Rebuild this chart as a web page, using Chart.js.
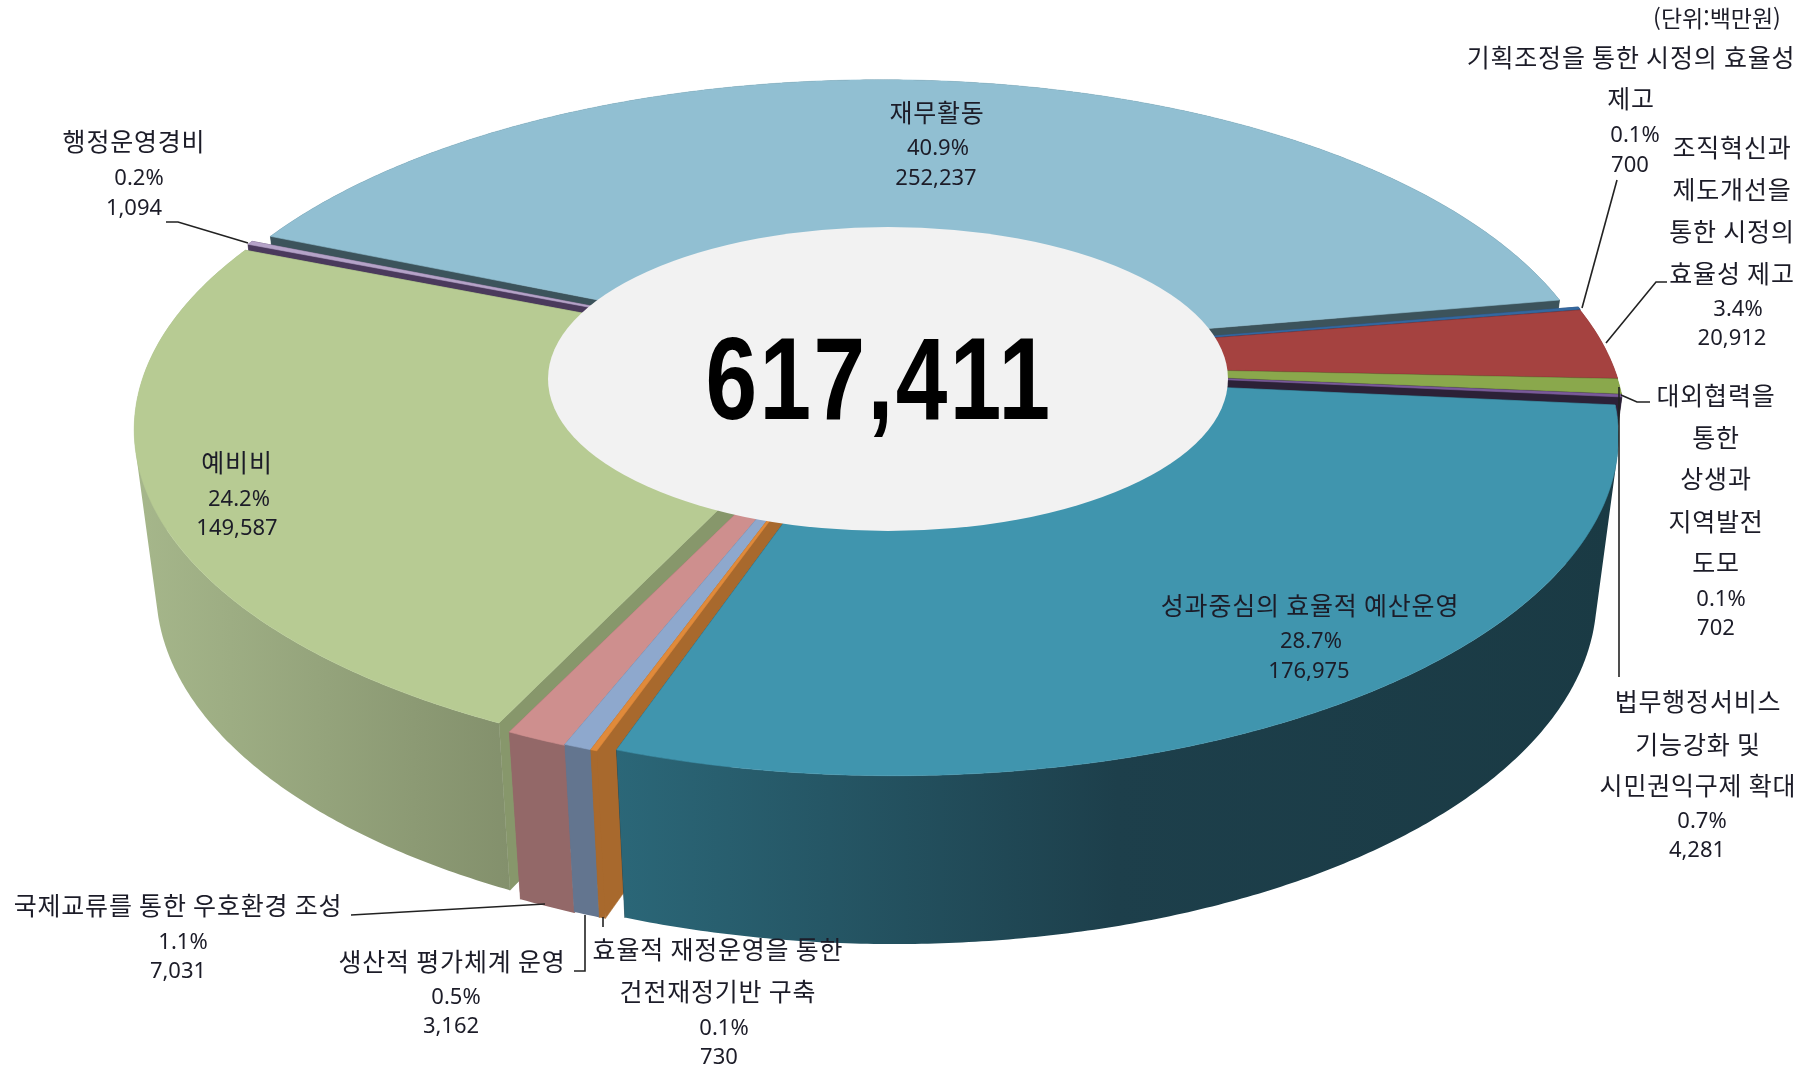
<!DOCTYPE html>
<html lang="ko">
<head>
<meta charset="utf-8">
<title>617,411</title>
<script src="https://cdn.jsdelivr.net/npm/chart.js@4/dist/chart.umd.min.js"></script>
<style>
  html, body { margin: 0; padding: 0; background: #fff; }
  canvas { display: block; }
</style>
</head>
<body>
<canvas id="myChart" width="1811" height="1070"></canvas>
<script>
// slices in clockwise order, starting at the first one after the 재무활동 slice
const categories = [
    ['기획조정을 통한 시정의 효율성', '제고'],
    ['조직혁신과', '제도개선을', '통한 시정의', '효율성 제고'],
    ['법무행정서비스', '기능강화 및', '시민권익구제 확대'],
    ['대외협력을', '통한', '상생과', '지역발전', '도모'],
    ['성과중심의 효율적 예산운영'],
    ['효율적 재정운영을 통한', '건전재정기반 구축'],
    ['생산적 평가체계 운영'],
    ['국제교류를 통한 우호환경 조성'],
    ['예비비'],
    ['행정운영경비'],
    ['재무활동']
]
const values = [700, 20912, 4281, 702, 176975, 730, 3162, 7031, 149587, 1094, 252237]
const unitLabel = '(단위:백만원)'

const topColors = ['#35689f', '#a54240', '#8aa84c', '#7a5a9a', '#4095ae', '#e08a3a', '#8ea8cd', '#ce8f8e', '#b7cb93', '#b5a3c8', '#91bfd2']
const edgeColors = ['#24456b', '#6e2c2b', '#5c7033', '#2c2137', '#1d4250', '#a8692d', '#63758f', '#936868', '#87976b', '#4a3a5c', '#3c535b']
const wallStops = [
    ['#24456b'], ['#6e2c2b'], ['#5c7033'], ['#2c2137'],
    ['#2b6778', '#1d3f4b', '#1a3a44'],
    ['#a8692d'], ['#63758f'], ['#936868'],
    ['#a6b78b', '#83906c'],
    ['#4a3a5c'], ['#3c535b']
]
// slice offset from the pie centre in px, third number narrows the slice
const shifts = [[6, -4, 1], [6, -3, 1], [6, -2, 1], [6, -1, 1], [14, 7, 0.98], [0, 8, 1], [0, 8, 1], [0, 9, 1], [-14, 0, 0.99], [-5, -6, 1], [1, -11, 0.98]]
const drawOrder = [10, 0, 1, 2, 3, 9, 8, 7, 6, 5, 4]

// label anchors: centre x of the block, centre y of every line, x of the percent and value rows
const labelSpots = [
    { x: 1631, ys: [57, 98, 134, 164], vx: [1635, 1630] },
    { x: 1732, ys: [147, 189, 231, 273, 308, 337], vx: [1738, 1732] },
    { x: 1698, ys: [701, 744, 785, 820, 849], vx: [1702, 1697] },
    { x: 1716, ys: [395, 437, 478, 521, 562, 598, 627], vx: [1721, 1716] },
    { x: 1310, ys: [605, 640, 670], vx: [1311, 1309] },
    { x: 718, ys: [949, 991, 1027, 1056], vx: [724, 719] },
    { x: 452, ys: [961, 996, 1025], vx: [456, 451] },
    { x: 178, ys: [905, 941, 970], vx: [183, 178] },
    { x: 237, ys: [462, 498, 527], vx: [239, 237] },
    { x: 134, ys: [141, 177, 207], vx: [139, 134] },
    { x: 937, ys: [112, 147, 177], vx: [938, 936] }
]
const leaders = [
    [[1617, 180], [1582, 308]],
    [[1667, 282], [1656, 282], [1606, 343]],
    [[1619, 387], [1619, 677]],
    [[1650, 402], [1637, 402], [1621, 395]],
    [],
    [[603, 917], [603, 927]],
    [[574, 971], [585, 971], [585, 915]],
    [[351, 915], [545, 904]],
    [],
    [[166, 222], [178, 222], [248, 243]],
    []
]

const total = values.reduce((sum, v) => sum + v, 0)

// tilted disc with perspective, h = 0 is the top face and h = 1 the bottom one
const view = { cx: 880, cy: 366, a: 726, b: 327, bLow: 335, k: 0.188, depth: 158.5, shrink: 0.03 }
const project = (angle, radius, h, shift) => {
    const u = Math.cos(angle) * radius * shift[2]
    const v = Math.sin(angle) * radius
    const w = 1 - view.k * v
    const s = 1 - view.shrink * h
    const b = h ? view.bLow : view.b
    return [
        view.cx + s * view.a * u / w + shift[0],
        view.cy + b * v / w + view.depth * h + shift[1]
    ]
}

const arcPoints = (start, end, h, shift) => {
    const steps = Math.max(2, Math.ceil((end - start) / 0.008))
    const pts = []
    for (let i = 0; i <= steps; i++) {
        pts.push(project(start + (end - start) * i / steps, 1, h, shift))
    }
    return pts
}

const tracePoly = (ctx, pts) => {
    pts.forEach((p, i) => i ? ctx.lineTo(p[0], p[1]) : ctx.moveTo(p[0], p[1]))
    ctx.closePath()
}

const fillPoly = (ctx, pts, paint) => {
    ctx.beginPath()
    tracePoly(ctx, pts)
    ctx.fillStyle = paint
    ctx.strokeStyle = paint
    ctx.lineWidth = 0.6
    ctx.fill()
    ctx.stroke()
}

const signedArea = pts => pts.reduce((sum, p, i) => {
    const q = pts[(i + 1) % pts.length]
    return sum + p[0] * q[1] - q[0] * p[1]
}, 0)

const wallPaint = (ctx, i, pts) => {
    const stops = wallStops[i]
    if (stops.length === 1) return stops[0]
    const xs = pts.map(p => p[0])
    const grad = ctx.createLinearGradient(Math.min(...xs), 0, Math.max(...xs), 0)
    stops.forEach((c, n) => grad.addColorStop(n / (stops.length - 1), c))
    return grad
}

const pie3d = {
    id: 'pie3d',
    // the arcs keep their angles from the doughnut controller, only the drawing is ours
    beforeDatasetDraw(chart) {
        const ctx = chart.ctx
        const arcs = chart.getDatasetMeta(0).data
        ctx.save()
        drawOrder.forEach(i => {
            const { startAngle, endAngle } = arcs[i]
            const shift = shifts[i]
            const edges = [startAngle, endAngle]
            edges.forEach(a => {
                fillPoly(ctx, [
                    project(a, 0, 0, shift), project(a, 1, 0, shift),
                    project(a, 1, 1, shift), project(a, 0, 1, shift)
                ], edgeColors[i])
            })
            const rim = arcPoints(startAngle, endAngle, 0, shift)
            const low = arcPoints(startAngle, endAngle, 1, shift)
            // all quads in one path, same winding, so the wall is swept without seams
            ctx.beginPath()
            for (let n = 0; n < rim.length - 1; n++) {
                const quad = [rim[n], rim[n + 1], low[n + 1], low[n]]
                tracePoly(ctx, signedArea(quad) < 0 ? quad.reverse() : quad)
            }
            ctx.fillStyle = wallPaint(ctx, i, rim.concat(low))
            ctx.fill()
            fillPoly(ctx, [project(startAngle, 0, 0, shift)].concat(rim), topColors[i])
        })
        ctx.restore()
        return false
    },
    afterDatasetsDraw(chart) {
        const ctx = chart.ctx
        ctx.save()
        ctx.fillStyle = '#f2f2f2'
        ctx.beginPath()
        ctx.ellipse(888, 379, 340, 152, 0, 0, Math.PI * 2)
        ctx.fill()

        ctx.fillStyle = '#000'
        ctx.textAlign = 'center'
        ctx.textBaseline = 'middle'
        ctx.save()
        ctx.translate(879, 387)
        ctx.scale(0.8, 1)
        ctx.font = 'bold 116px "Liberation Sans"'
        ctx.letterSpacing = '3px'
        ctx.fillText(total.toLocaleString('en-US'), 0, 0)
        ctx.restore()

        ctx.strokeStyle = '#222'
        ctx.lineWidth = 1.6
        leaders.forEach(line => {
            if (!line.length) return
            ctx.beginPath()
            line.forEach((p, i) => i ? ctx.lineTo(p[0], p[1]) : ctx.moveTo(p[0], p[1]))
            ctx.stroke()
        })

        ctx.fillStyle = '#1c1c28'
        categories.forEach((lines, i) => {
            const spot = labelSpots[i]
            const pct = (values[i] / total * 100).toFixed(1) + '%'
            const rows = lines.concat([pct, values[i].toLocaleString('en-US')])
            rows.forEach((text, n) => {
                const isName = n < lines.length
                ctx.font = isName ? '25px "Noto Sans CJK KR"' : '22px "Noto Sans"'
                ctx.letterSpacing = isName ? '0.8px' : '0px'
                const x = isName ? spot.x : spot.vx[n - lines.length]
                ctx.fillText(text, x, spot.ys[n] + (isName ? 0 : 2))
            })
        })
        ctx.font = '23px "Noto Sans CJK KR"'
        ctx.letterSpacing = '0px'
        ctx.fillText(unitLabel, 1717, 18)
        ctx.restore()
    }
}

new Chart(document.getElementById('myChart'), {
    type: 'doughnut',
    data: {
        labels: categories.map(c => c.join(' ')),
        datasets: [{ data: values, backgroundColor: topColors, borderWidth: 0 }]
    },
    options: {
        responsive: false,
        animation: false,
        rotation: 80,
        cutout: 0,
        plugins: { legend: { display: false }, tooltip: { enabled: false } }
    },
    plugins: [pie3d]
})
</script>
</body>
</html>
